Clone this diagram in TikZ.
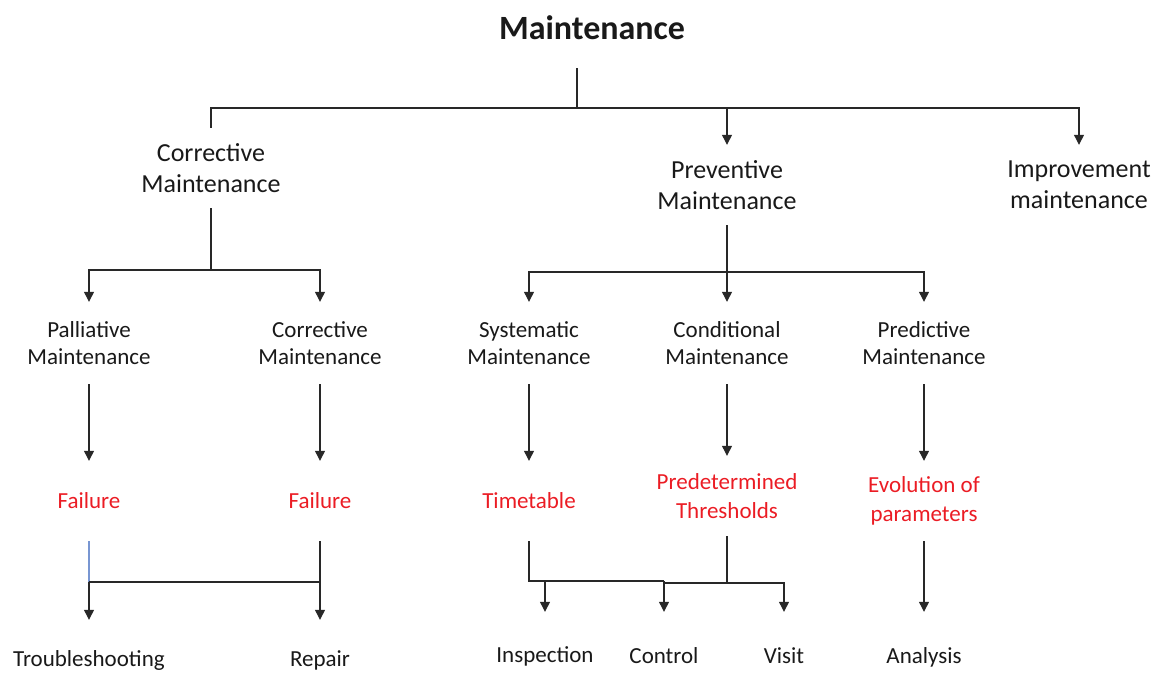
\documentclass[tikz,border=0pt]{standalone}
\usepackage{fontspec}
\setmainfont{Carlito}
\usetikzlibrary{arrows.meta}
\definecolor{txt}{RGB}{25,25,25}
\definecolor{redtxt}{RGB}{235,28,36}
\definecolor{ln}{RGB}{40,40,40}
\definecolor{blueln}{RGB}{120,150,210}
\tikzset{
  box/.style={inner sep=0pt, minimum height=80pt, align=center, text=txt},
  titlebox/.style={box, font=\fontsize{34}{40}\selectfont\bfseries},
  lvone/.style={box, font=\fontsize{26}{31}\selectfont},
  lvtwo/.style={box, minimum height=82pt, font=\fontsize{23}{27}\selectfont},
  redbox/.style={box, text=redtxt, font=\fontsize{23}{28.5}\selectfont},
  leaf/.style={box, font=\fontsize{23}{27}\selectfont},
  conn/.style={draw=ln, line width=1.2pt},
  arr/.style={conn, -{Triangle[width=10pt,length=10pt]}},
}
\begin{document}
\begin{tikzpicture}[x=1pt,y=-1pt]
\useasboundingbox (0,0) rectangle (1158,673);
% nodes
\node[titlebox] (title) at (592,28) {Maintenance};
\node[lvone] (corr1) at (211,168) {Corrective\\Maintenance};
\node[lvone] (prev1) at (727,185) {Preventive\\Maintenance};
\node[lvone] (impr) at (1079,185) {Improvement\\maintenance};
\node[lvtwo] (pal) at (89,343) {Palliative\\Maintenance};
\node[lvtwo] (corr2) at (320,343) {Corrective\\Maintenance};
\node[lvtwo] (sys) at (529,343) {Systematic\\Maintenance};
\node[lvtwo] (cond) at (727,343) {Conditional\\Maintenance};
\node[lvtwo] (pred) at (924,343) {Predictive\\Maintenance};
\node[redbox] (fail1) at (89,501) {Failure};
\node[redbox] (fail2) at (320,501) {Failure};
\node[redbox] (time) at (529,501) {Timetable};
\node[redbox] (thr) at (727,496) {Predetermined\\Thresholds};
\node[redbox] (evo) at (924,501) {Evolution of\\parameters};
\node[leaf] (trouble) at (89,660) {Troubleshooting};
\node[leaf] (repair) at (320,660) {Repair};
\node[leaf, minimum height=88pt] (insp) at (545,656) {Inspection};
\node[leaf, minimum height=88pt] (ctrl) at (664,656) {Control};
\node[leaf, minimum height=88pt] (visit) at (784,656) {Visit};
\node[leaf, minimum height=90pt] (anal) at (924,657) {Analysis};
% junctions
\coordinate (j0) at (577,108);
\coordinate (j1) at (211,270);
\coordinate (j2) at (727,272);
\coordinate (j3l) at (89,582);
\coordinate (j3r) at (320,582);
\coordinate (j4) at (529,581);
\coordinate (j5) at (664,581);
\coordinate (j6) at (727,583);
% top level
\draw[conn] (j0 |- title.south) -- (j0);
\draw[conn] (corr1.north) |- (j0);
\draw[arr] (j0) -| (prev1.north);
\draw[arr] (j0) -| (impr.north);
% corrective branch
\draw[conn] (corr1.south) -- (j1);
\draw[arr] (j1) -| (pal.north);
\draw[arr] (j1) -| (corr2.north);
% preventive branch
\draw[conn] (prev1.south) -- (j2);
\draw[arr] (j2) -| (sys.north);
\draw[arr] (j2) -- (cond.north);
\draw[arr] (j2) -| (pred.north);
% level 2 to level 3
\draw[arr] (pal.south) -- (fail1.north);
\draw[arr] (corr2.south) -- (fail2.north);
\draw[arr] (sys.south) -- (time.north);
\draw[arr] (cond.south) -- (thr.north);
\draw[arr] (pred.south) -- (evo.north);
% bottom left
\draw[draw=blueln, line width=1.2pt] (fail1.south) -- (j3l);
\draw[conn] (fail2.south) -- (j3r);
\draw[conn] (j3l) -- (j3r);
\draw[arr] (j3l) -- (trouble.north);
\draw[arr] (j3r) -- (repair.north);
% bottom middle
\draw[conn] (time.south) -- (j4) -- (j5);
\draw[arr] (insp.north |- j4) -- (insp.north);
\draw[arr] (j5) -- (ctrl.north);
\draw[conn] (thr.south) -- (j6) -- (j5 |- j6);
\draw[arr] (j6) -| (visit.north);
% bottom right
\draw[arr] (evo.south) -- (anal.north);
\end{tikzpicture}
\end{document}
